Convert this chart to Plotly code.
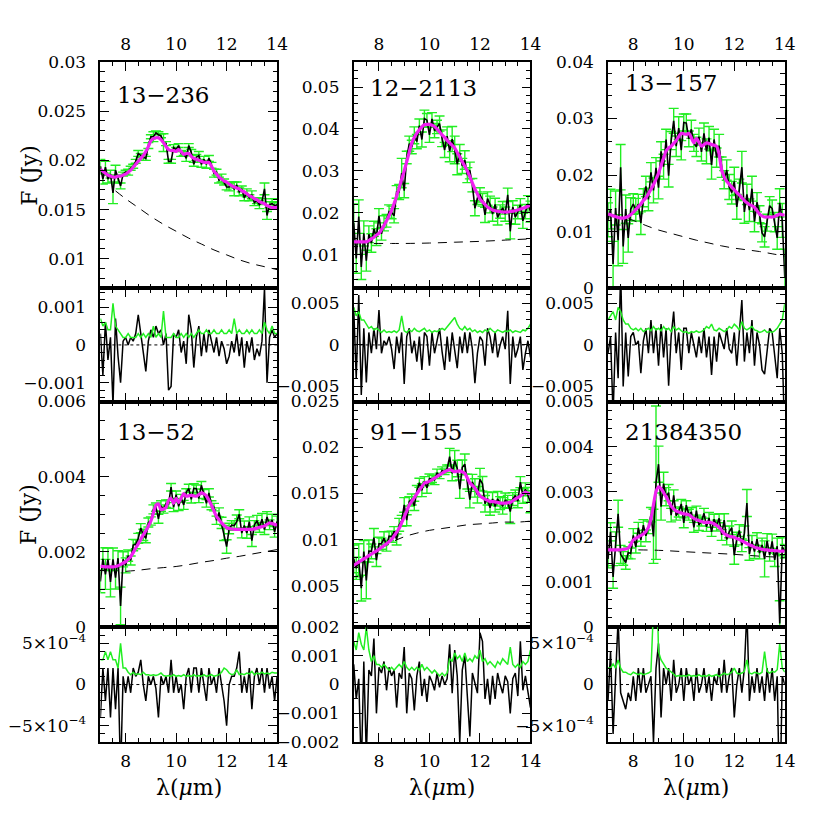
import numpy as np
import plotly.graph_objects as go

# ---------------- data ----------------
WAVE = [7.0, 7.1, 7.2, 7.3, 7.4, 7.5, 7.6, 7.7, 7.8, 7.9,
        8.0, 8.1, 8.2, 8.3, 8.4, 8.5, 8.6, 8.7, 8.8, 8.9,
        9.0, 9.1, 9.2, 9.3, 9.4, 9.5, 9.6, 9.7, 9.8, 9.9,
        10.0, 10.1, 10.2, 10.3, 10.4, 10.5, 10.6, 10.7, 10.8, 10.9,
        11.0, 11.1, 11.2, 11.3, 11.4, 11.5, 11.6, 11.7, 11.8, 11.9,
        12.0, 12.1, 12.2, 12.3, 12.4, 12.5, 12.6, 12.7, 12.8, 12.9,
        13.0, 13.1, 13.2, 13.3, 13.4, 13.5, 13.6, 13.7, 13.8, 13.9, 14.0]

NAMES = ["13\u2212236", "12\u22122113", "13\u2212157", "13\u221252", "91\u2212155", "21384350"]

# 13-236
MODEL_A = [0.0191, 0.0189, 0.0187, 0.0185, 0.0184, 0.0183, 0.0183, 0.0184, 0.0184, 0.0185,
           0.0186, 0.0188, 0.0190, 0.0193, 0.0196, 0.0199, 0.0202, 0.0205, 0.0209, 0.0214,
           0.0220, 0.0222, 0.0223, 0.0223, 0.0221, 0.0218, 0.0214, 0.0211, 0.0210, 0.0210,
           0.0209, 0.0211, 0.0209, 0.0206, 0.0207, 0.0207, 0.0204, 0.0202, 0.0201, 0.0200,
           0.0199, 0.0198, 0.0198, 0.0198, 0.0194, 0.0189, 0.0186, 0.0183, 0.0181, 0.0179,
           0.0178, 0.0176, 0.0174, 0.0173, 0.0172, 0.0171, 0.0169, 0.0168, 0.0166, 0.0164,
           0.0163, 0.0161, 0.0160, 0.0158, 0.0157, 0.0156, 0.0154, 0.0153, 0.0152, 0.0152, 0.0152]
RESID_A = [0.0003, -0.0008, 0.0006, -0.0004, 0.0002, -0.0016, 0.0007, -0.0003, -0.0010, 0.0001,
           0.0002, 0.0000, 0.0002, 0.0001, 0.0003, 0.0008, 0.0003, -0.0002, -0.0007, 0.0001,
           0.0004, 0.0002, 0.0005, 0.0003, 0.0004, 0.0000, 0.0003, -0.0012, -0.0011, 0.0003,
           0.0002, 0.0004, -0.0002, 0.0001, -0.0005, 0.0008, 0.0004, -0.0006, 0.0002, 0.0005,
           -0.0003, 0.0003, -0.0002, 0.0004, 0.0001, -0.0002, 0.0002, -0.0003, 0.0001, -0.0001,
           -0.0005, -0.0003, 0.0001, -0.0002, 0.0003, -0.0003, 0.0002, -0.0006, 0.0001, -0.0002,
           0.0002, -0.0004, -0.0001, -0.0003, 0.0001, 0.0015, -0.0010, 0.0002, 0.0004, 0.0002, 0.0003]
ERR_A = [0.0007, 0.0005, 0.0006, 0.0004, 0.0004, 0.0011, 0.0005, 0.0004, 0.0003, 0.0002,
         0.0002, 0.0003, 0.0002, 0.0002, 0.0002, 0.0003, 0.0002, 0.0003, 0.0002, 0.0003,
         0.0002, 0.0005, 0.0002, 0.0003, 0.0002, 0.0009, 0.0002, 0.0002, 0.0002, 0.0003,
         0.0002, 0.0002, 0.0003, 0.0002, 0.0003, 0.0002, 0.0003, 0.0002, 0.0003, 0.0004,
         0.0003, 0.0003, 0.0004, 0.0003, 0.0003, 0.0004, 0.0003, 0.0003, 0.0004, 0.0003,
         0.0003, 0.0004, 0.0003, 0.0007, 0.0003, 0.0004, 0.0003, 0.0003, 0.0004, 0.0003,
         0.0004, 0.0003, 0.0003, 0.0004, 0.0003, 0.0006, 0.0004, 0.0003, 0.0005, 0.0003, 0.0003]
CONT_X_A = [7.6, 8.0, 8.5, 9.0, 9.5, 10.0, 10.5, 11.0, 11.5, 12.0, 12.5, 13.0, 13.5, 14.0]
CONT_A = [0.0169, 0.0161, 0.0152, 0.0143, 0.0135, 0.0128, 0.0121, 0.0115, 0.0109, 0.0104,
          0.0099, 0.0095, 0.0092, 0.0089]

# 12-2113
MODEL_B = [0.0131, 0.0131, 0.0131, 0.0131, 0.0131, 0.0131, 0.0134, 0.0138, 0.0142, 0.0147,
           0.0151, 0.0160, 0.0170, 0.0181, 0.0193, 0.0206, 0.0222, 0.0240, 0.0260, 0.0280,
           0.0300, 0.0322, 0.0345, 0.0367, 0.0380, 0.0390, 0.0398, 0.0405, 0.0410, 0.0411,
           0.0411, 0.0409, 0.0406, 0.0400, 0.0393, 0.0386, 0.0380, 0.0373, 0.0367, 0.0361,
           0.0355, 0.0344, 0.0333, 0.0322, 0.0311, 0.0300, 0.0286, 0.0271, 0.0257, 0.0245,
           0.0233, 0.0226, 0.0220, 0.0214, 0.0210, 0.0207, 0.0205, 0.0204, 0.0203, 0.0202,
           0.0202, 0.0202, 0.0203, 0.0204, 0.0205, 0.0207, 0.0209, 0.0211, 0.0213, 0.0216, 0.0218]
RESID_B = [0.0045, -0.0040, 0.0060, -0.0060, 0.0020, -0.0045, 0.0015, -0.0010, 0.0020, -0.0005,
           0.0042, -0.0010, 0.0005, 0.0000, 0.0010, -0.0005, -0.0029, 0.0010, -0.0010, 0.0015,
           -0.0047, 0.0010, 0.0020, -0.0010, 0.0005, -0.0020, 0.0010, -0.0030, 0.0015, 0.0010,
           -0.0025, 0.0015, -0.0010, 0.0005, 0.0020, -0.0008, -0.0030, 0.0010, -0.0020, 0.0015,
           -0.0005, -0.0028, 0.0010, -0.0010, 0.0015, -0.0010, 0.0015, -0.0005, -0.0046, -0.0010,
           0.0010, 0.0005, -0.0025, 0.0020, 0.0010, -0.0010, 0.0015, -0.0015, 0.0000, 0.0010,
           -0.0005, 0.0041, -0.0047, 0.0010, -0.0015, -0.0005, 0.0010, -0.0030, -0.0010, 0.0005, -0.0015]
ERR_B = [0.0045, 0.0035, 0.0040, 0.0030, 0.0030, 0.0025, 0.0020, 0.0022, 0.0018, 0.0020,
         0.0017, 0.0015, 0.0018, 0.0015, 0.0016, 0.0015, 0.0017, 0.0015, 0.0018, 0.0035,
         0.0017, 0.0015, 0.0018, 0.0016, 0.0020, 0.0017, 0.0016, 0.0018, 0.0020, 0.0016,
         0.0018, 0.0015, 0.0017, 0.0016, 0.0018, 0.0020, 0.0018, 0.0022, 0.0025, 0.0030,
         0.0033, 0.0025, 0.0020, 0.0018, 0.0022, 0.0018, 0.0020, 0.0016, 0.0018, 0.0015,
         0.0017, 0.0015, 0.0018, 0.0016, 0.0020, 0.0017, 0.0015, 0.0018, 0.0016, 0.0015,
         0.0017, 0.0016, 0.0018, 0.0015, 0.0017, 0.0016, 0.0015, 0.0018, 0.0017, 0.0020, 0.0025]
CONT_X_B = [7.8, 8.5, 9.0, 10.0, 11.0, 12.0, 13.0, 14.0]
CONT_B = [0.0127, 0.0127, 0.0127, 0.0128, 0.0130, 0.0132, 0.0135, 0.0138]

# 13-157
MODEL_C = [0.0131, 0.0130, 0.0128, 0.0127, 0.0125, 0.0124, 0.0124, 0.0125, 0.0127, 0.0130,
           0.0134, 0.0139, 0.0144, 0.0149, 0.0155, 0.0160, 0.0167, 0.0175, 0.0183, 0.0193,
           0.0203, 0.0217, 0.0230, 0.0243, 0.0248, 0.0251, 0.0256, 0.0261, 0.0268, 0.0274,
           0.0273, 0.0272, 0.0274, 0.0266, 0.0257, 0.0265, 0.0258, 0.0251, 0.0254, 0.0257,
           0.0256, 0.0254, 0.0253, 0.0251, 0.0237, 0.0209, 0.0197, 0.0189, 0.0184, 0.0179,
           0.0174, 0.0169, 0.0165, 0.0160, 0.0155, 0.0151, 0.0148, 0.0146, 0.0143, 0.0137,
           0.0131, 0.0128, 0.0126, 0.0126, 0.0126, 0.0126, 0.0127, 0.0129, 0.0131, 0.0130, 0.0129]
RESID_C = [-0.0010, 0.0010, -0.0085, 0.0015, -0.0040, 0.0090, -0.0050, 0.0015, -0.0038, 0.0010,
           0.0015, 0.0000, 0.0005, -0.0034, 0.0005, 0.0020, -0.0010, 0.0030, -0.0010, 0.0020,
           -0.0025, 0.0025, -0.0015, 0.0020, -0.0049, 0.0010, 0.0040, -0.0010, 0.0015, -0.0030,
           0.0020, 0.0020, -0.0010, 0.0015, 0.0000, -0.0015, 0.0010, -0.0010, 0.0020, -0.0015,
           0.0010, -0.0036, 0.0010, -0.0020, 0.0015, 0.0005, -0.0005, 0.0020, -0.0005, -0.0010,
           0.0015, -0.0025, 0.0010, 0.0054, -0.0020, 0.0015, -0.0010, 0.0030, -0.0025, 0.0015,
           0.0000, -0.0030, -0.0035, -0.0010, 0.0020, 0.0015, -0.0010, -0.0040, 0.0020, -0.0010, -0.0110]
ERR_C = [0.0030, 0.0035, 0.0040, 0.0030, 0.0045, 0.0040, 0.0030, 0.0025, 0.0025, 0.0020,
         0.0018, 0.0020, 0.0017, 0.0020, 0.0016, 0.0018, 0.0020, 0.0017, 0.0022, 0.0018,
         0.0020, 0.0017, 0.0022, 0.0018, 0.0020, 0.0016, 0.0022, 0.0018, 0.0020, 0.0017,
         0.0015, 0.0016, 0.0014, 0.0016, 0.0015, 0.0017, 0.0015, 0.0016, 0.0018, 0.0022,
         0.0020, 0.0025, 0.0018, 0.0017, 0.0020, 0.0018, 0.0016, 0.0018, 0.0022, 0.0020,
         0.0025, 0.0022, 0.0018, 0.0028, 0.0020, 0.0018, 0.0020, 0.0022, 0.0018, 0.0017,
         0.0015, 0.0016, 0.0018, 0.0015, 0.0016, 0.0015, 0.0017, 0.0020, 0.0025, 0.0030, 0.0050]
CONT_X_C = [7.8, 8.0, 8.5, 9.0, 9.5, 10.0, 10.5, 11.0, 11.5, 12.0, 12.5, 13.0, 13.5, 14.0]
CONT_C = [0.0123, 0.0120, 0.0111, 0.0103, 0.0097, 0.0091, 0.0085, 0.0080, 0.0075, 0.0071,
          0.0068, 0.0065, 0.0061, 0.0057]

# 13-52
MODEL_D = [0.00161, 0.00161, 0.00160, 0.00160, 0.00160, 0.00160, 0.00161, 0.00163, 0.00166, 0.00170,
           0.00174, 0.00180, 0.00187, 0.00198, 0.00210, 0.00221, 0.00233, 0.00245, 0.00256, 0.00268,
           0.00282, 0.00303, 0.00324, 0.00328, 0.00312, 0.00314, 0.00318, 0.00337, 0.00342, 0.00329,
           0.00342, 0.00331, 0.00343, 0.00355, 0.00348, 0.00349, 0.00350, 0.00349, 0.00348, 0.00352,
           0.00357, 0.00354, 0.00349, 0.00337, 0.00324, 0.00309, 0.00294, 0.00285, 0.00277, 0.00270,
           0.00264, 0.00262, 0.00261, 0.00260, 0.00260, 0.00260, 0.00260, 0.00260, 0.00260, 0.00260,
           0.00260, 0.00261, 0.00263, 0.00265, 0.00267, 0.00269, 0.00273, 0.00277, 0.00275, 0.00273, 0.00271]
RESID_D = [-0.0004, 0.0002, -0.0002, 0.0002, -0.0004, 0.0002, -0.0003, 0.0002, -0.0011, 0.0001,
           -0.0001, 0.0001, -0.0001, 0.0002, 0.0001, 0.00015, 0.0003, 0.0000, -0.0002, 0.0001,
           0.0000, 0.0001, -0.00005, -0.0004, 0.0001, 0.0000, 0.0001, -0.0001, 0.0003, -0.0001,
           0.0001, -0.0001, 0.0000, -0.0003, 0.0001, 0.0002, -0.0001, 0.0002, 0.0002, -0.0001,
           0.0002, 0.0000, -0.0002, 0.0002, 0.0000, 0.0001, -0.0001, 0.0002, 0.0000, -0.0002,
           -0.0005, 0.0000, 0.0001, 0.0001, 0.0002, 0.0004, -0.0001, 0.0001, -0.0001, 0.0002,
           -0.0003, 0.0001, 0.0002, 0.0000, 0.0002, -0.0001, 0.0002, -0.00005, 0.0001, -0.0002, 0.0001]
ERR_D = [0.0003, 0.0003, 0.0004, 0.0003, 0.0004, 0.0003, 0.0003, 0.0002, 0.0005, 0.0002,
         0.0002, 0.00015, 0.00012, 0.00015, 0.00012, 0.00013, 0.00012, 0.00015, 0.00012, 0.00012,
         0.00011, 0.00012, 0.00011, 0.00012, 0.00014, 0.00011, 0.0001, 0.00011, 0.0001, 0.00012,
         0.0001, 0.00011, 0.0001, 0.00012, 0.0001, 0.00011, 0.0001, 0.00012, 0.0001, 0.00011,
         0.0001, 0.00012, 0.0001, 0.00011, 0.00012, 0.0001, 0.00011, 0.00012, 0.00015, 0.0002,
         0.00018, 0.00014, 0.00012, 0.00013, 0.00018, 0.00012, 0.00013, 0.00012, 0.00014, 0.00013,
         0.00016, 0.00012, 0.00014, 0.00013, 0.00015, 0.00013, 0.00014, 0.00013, 0.00015, 0.00014, 0.00014]
CONT_X_D = [8.0, 8.5, 9.0, 9.5, 10.0, 10.5, 11.0, 11.5, 12.0, 12.5, 13.0, 13.5, 14.0]
CONT_D = [0.00148, 0.00151, 0.00155, 0.00158, 0.00161, 0.00166, 0.00172, 0.00177, 0.00183,
          0.00188, 0.00194, 0.00200, 0.00206]

# 91-155
MODEL_E = [0.00720, 0.00737, 0.00755, 0.00772, 0.00790, 0.00807, 0.00825, 0.00842, 0.00860, 0.00877,
           0.00895, 0.00915, 0.00935, 0.00954, 0.00977, 0.01000, 0.01040, 0.01080, 0.01120, 0.01183,
           0.01246, 0.01310, 0.01375, 0.01415, 0.01456, 0.01497, 0.01537, 0.01576, 0.01614, 0.01623,
           0.01632, 0.01650, 0.01667, 0.01685, 0.01702, 0.01720, 0.01737, 0.01750, 0.01761, 0.01749,
           0.01737, 0.01742, 0.01747, 0.01735, 0.01719, 0.01670, 0.01614, 0.01588, 0.01561, 0.01517,
           0.01474, 0.01456, 0.01439, 0.01426, 0.01414, 0.01412, 0.01410, 0.01403, 0.01396, 0.01396,
           0.01396, 0.01400, 0.01404, 0.01420, 0.01439, 0.01456, 0.01474, 0.01495, 0.01516, 0.01505, 0.01491]
RESID_E = [0.0007, -0.0005, 0.0002, -0.0030, 0.0008, -0.0025, 0.0005, 0.0003, 0.0016, -0.0010,
           0.0006, 0.0004, 0.0008, -0.0002, 0.0006, 0.0003, 0.0005, -0.0008, 0.0004, 0.0002,
           0.0013, -0.0010, 0.0004, 0.0002, -0.0009, 0.0003, 0.0008, -0.0004, 0.0002, -0.0006,
           0.0003, 0.0001, -0.0002, 0.0004, -0.0001, 0.0003, 0.0000, 0.0002, 0.0014, -0.0003,
           0.0012, 0.0003, -0.0020, 0.0005, 0.0010, -0.0004, -0.0018, 0.0004, 0.0000, -0.0003,
           0.0018, 0.0015, -0.0005, 0.0002, -0.0007, 0.0003, -0.0005, 0.0004, 0.0000, -0.0003,
           0.0003, 0.0001, -0.0010, 0.0002, 0.0004, -0.0004, 0.0015, -0.0002, 0.0003, -0.0002, -0.0008]
ERR_E = [0.0015, 0.0012, 0.0018, 0.0014, 0.0012, 0.0020, 0.0012, 0.0008, 0.0010, 0.0007,
         0.0007, 0.0006, 0.0007, 0.0006, 0.0005, 0.0006, 0.0005, 0.0006, 0.0007, 0.0006,
         0.0008, 0.0006, 0.0005, 0.0006, 0.0005, 0.0006, 0.0005, 0.0007, 0.0005, 0.0006,
         0.0005, 0.0004, 0.0005, 0.0004, 0.0003, 0.0004, 0.0003, 0.0004, 0.0009, 0.0008,
         0.0011, 0.0009, 0.0010, 0.0008, 0.0011, 0.0008, 0.0009, 0.0008, 0.0010, 0.0009,
         0.0012, 0.0008, 0.0009, 0.0007, 0.0008, 0.0007, 0.0006, 0.0008, 0.0007, 0.0009,
         0.0008, 0.0007, 0.0013, 0.0007, 0.0006, 0.0007, 0.0006, 0.0008, 0.0007, 0.0008, 0.0012]
CONT_X_E = [7.0, 7.5, 8.0, 8.5, 9.0, 9.5, 10.0, 10.5, 11.0, 11.5, 12.0, 12.5, 13.0, 13.5, 14.0]
CONT_E = [0.0072, 0.0080, 0.0089, 0.0097, 0.0103, 0.0107, 0.0110, 0.0112, 0.0114, 0.0116,
          0.0117, 0.0118, 0.0119, 0.0119, 0.0120]

# 21384350
MODEL_F = [0.00171, 0.00171, 0.00171, 0.00171, 0.00171, 0.00171, 0.00172, 0.00173, 0.00175, 0.00183,
           0.00193, 0.00197, 0.00200, 0.00203, 0.00206, 0.00212, 0.00221, 0.00239, 0.00271, 0.00300,
           0.00311, 0.00307, 0.00298, 0.00289, 0.00278, 0.00268, 0.00262, 0.00257, 0.00255, 0.00253,
           0.00251, 0.00250, 0.00249, 0.00245, 0.00241, 0.00238, 0.00236, 0.00234, 0.00232, 0.00232,
           0.00232, 0.00231, 0.00229, 0.00225, 0.00221, 0.00214, 0.00207, 0.00204, 0.00201, 0.00200,
           0.00199, 0.00196, 0.00194, 0.00191, 0.00188, 0.00185, 0.00182, 0.00180, 0.00177, 0.00175,
           0.00174, 0.00172, 0.00171, 0.00171, 0.00170, 0.00170, 0.00169, 0.00169, 0.00168, 0.00168, 0.00168]
RESID_F = [-0.0002, 0.0004, -0.0006, 0.0002, 0.0008, -0.0001, -0.0002, -0.0003, -0.0001, -0.0002,
           0.0001, -0.0002, 0.0002, -0.0001, 0.0002, -0.0001, 0.0000, 0.0001, -0.0007, 0.0002,
           0.0005, -0.0004, 0.0002, 0.0000, 0.0002, -0.0002, 0.0003, -0.0001, 0.0000, 0.0002,
           -0.0002, 0.0002, 0.0000, 0.0001, -0.0002, 0.0002, -0.0001, 0.0000, 0.0002, -0.0001,
           0.0001, -0.0002, 0.0001, 0.0000, 0.0002, -0.0001, 0.0003, -0.0001, 0.0001, 0.0002,
           -0.0004, 0.0000, 0.0002, -0.0001, 0.0002, 0.0009, -0.0002, 0.0001, -0.0001, 0.0002,
           -0.0001, 0.0001, -0.0002, 0.0002, -0.0001, 0.0002, -0.0002, 0.0001, -0.0016, 0.0001, 0.0000]
ERR_F = [0.0002, 0.0002, 0.00025, 0.0002, 0.0003, 0.0002, 0.00015, 0.00015, 0.00013, 0.00012,
         0.00015, 0.00013, 0.00012, 0.00014, 0.00012, 0.00013, 0.00014, 0.00016, 0.0006, 0.0017,
         0.0004, 0.0003, 0.00025, 0.0002, 0.00018, 0.00015, 0.00012, 0.0001, 0.00011, 0.0001,
         0.00011, 0.0001, 0.00012, 0.0001, 0.00011, 0.0001, 0.00012, 0.0001, 0.00011, 0.0001,
         0.00012, 0.0001, 0.00011, 0.00012, 0.0001, 0.00012, 0.00014, 0.00012, 0.00013, 0.00015,
         0.0002, 0.00014, 0.00013, 0.00014, 0.00016, 0.0003, 0.00014, 0.00013, 0.00015, 0.00014,
         0.00013, 0.00015, 0.0004, 0.00016, 0.00014, 0.00016, 0.00015, 0.00018, 0.0005, 0.0002, 0.00015]
CONT_X_F = [8.2, 9.0, 10.0, 11.0, 12.0, 13.0, 14.0]
CONT_F = [0.00171, 0.00170, 0.00167, 0.00164, 0.00161, 0.00157, 0.00154]

# axis ranges and tick labels
FLUX_RANGE = [[0.007, 0.03], [0.002, 0.056], [0.0, 0.04],
              [0.0, 0.006], [0.0005, 0.025], [0.0, 0.005]]
RES_RANGE = [[-0.0015, 0.0015], [-0.0068, 0.0068], [-0.0068, 0.0068],
             [-0.0007, 0.0007], [-0.002, 0.002], [-0.0007, 0.0007]]
FLUX_TICKS = [[0.01, 0.015, 0.02, 0.025, 0.03], [0.01, 0.02, 0.03, 0.04, 0.05],
              [0.0, 0.01, 0.02, 0.03, 0.04], [0.0, 0.002, 0.004, 0.006],
              [0.005, 0.01, 0.015, 0.02, 0.025], [0.0, 0.001, 0.002, 0.003, 0.004, 0.005]]
FLUX_LABELS = [["0.01", "0.015", "0.02", "0.025", "0.03"], ["0.01", "0.02", "0.03", "0.04", "0.05"],
               ["0", "0.01", "0.02", "0.03", "0.04"], ["0", "0.002", "0.004", "0.006"],
               ["0.005", "0.01", "0.015", "0.02", "0.025"], ["0", "0.001", "0.002", "0.003", "0.004", "0.005"]]
FLUX_MINOR = [0.001, 0.002, 0.002, 0.0005, 0.001, 0.0002]
RES_TICKS = [[-0.001, 0.0, 0.001], [-0.005, 0.0, 0.005], [-0.005, 0.0, 0.005],
             [-0.0005, 0.0, 0.0005], [-0.002, -0.001, 0.0, 0.001, 0.002], [-0.0005, 0.0, 0.0005]]
RES_LABELS = [["\u22120.001", "0", "0.001"], ["\u22120.005", "0", "0.005"], ["\u22120.005", "0", "0.005"],
              ["\u22125\u00d710<sup>\u22124</sup>", "0", "5\u00d710<sup>\u22124</sup>"],
              ["\u22120.002", "\u22120.001", "0", "0.001", "0.002"],
              ["\u22125\u00d710<sup>\u22124</sup>", "0", "5\u00d710<sup>\u22124</sup>"]]
RES_MINOR = [0.0002, 0.001, 0.001, 0.0001, 0.0005, 0.0001]
X_TICKS = [8, 10, 12, 14]

MODELS = [MODEL_A, MODEL_B, MODEL_C, MODEL_D, MODEL_E, MODEL_F]
RESIDS = [RESID_A, RESID_B, RESID_C, RESID_D, RESID_E, RESID_F]
ERRS = [ERR_A, ERR_B, ERR_C, ERR_D, ERR_E, ERR_F]
CONT_XS = [CONT_X_A, CONT_X_B, CONT_X_C, CONT_X_D, CONT_X_E, CONT_X_F]
CONTS = [CONT_A, CONT_B, CONT_C, CONT_D, CONT_E, CONT_F]

# ---------------- layout geometry (pixels) ----------------
W = H = 830
COLS = [(90, 270), (348, 528), (607, 787)]
ROWS = [(45, 277), (277, 393), (393, 624), (624, 742)]
LABEL_Y = [79, 72, 67, 424, 424, 424]
FONT = "DejaVu Serif"
GREEN = "#22ee22"
MAGENTA = "#f020f0"


def xd(a, b):
    return [a / W, b / W]


def yd(top, bot):
    return [1 - bot / H, 1 - top / H]


fig = go.Figure()
layout = dict(width=W, height=H, margin=dict(l=0, r=0, t=0, b=0),
              paper_bgcolor="white", plot_bgcolor="white", showlegend=False,
              font=dict(family=FONT, size=17, color="black"))
shapes = []
annotations = []

ax = 0
for k in range(6):
    col = k % 3
    blk = k // 3  # 0 -> top block, 1 -> bottom block
    x = np.array(WAVE)
    model = np.array(MODELS[k])
    resid = np.array(RESIDS[k])
    err = np.array(ERRS[k])
    flux = model + resid

    for part in range(2):  # 0 flux, 1 residual
        ax += 1
        row = blk * 2 + part
        xa = "x" if ax == 1 else f"x{ax}"
        ya = "y" if ax == 1 else f"y{ax}"
        xkey = "xaxis" if ax == 1 else f"xaxis{ax}"
        ykey = "yaxis" if ax == 1 else f"yaxis{ax}"
        show_x = row in (0, 3)
        layout[xkey] = dict(
            domain=xd(*COLS[col]), anchor=ya, range=[7, 14],
            tickmode="array", tickvals=X_TICKS, ticktext=[str(t) for t in X_TICKS],
            ticks="inside", ticklen=9, tickwidth=1.3, tickcolor="black",
            minor=dict(ticks="inside", tick0=7, dtick=0.5, ticklen=4.5, tickwidth=1.1, tickcolor="black"),
            showline=True, linewidth=1.6, linecolor="black", mirror="allticks",
            showgrid=False, zeroline=False, showticklabels=show_x,
            side="top" if row == 0 else "bottom", ticklabelstandoff=3,
            tickfont=dict(family=FONT, size=17, color="black"))
        if part == 0:
            rng, tv, tt, mn = FLUX_RANGE[k], FLUX_TICKS[k], FLUX_LABELS[k], FLUX_MINOR[k]
        else:
            rng, tv, tt, mn = RES_RANGE[k], RES_TICKS[k], RES_LABELS[k], RES_MINOR[k]
        layout[ykey] = dict(
            domain=yd(*ROWS[row]), anchor=xa, range=rng,
            tickmode="array", tickvals=tv, ticktext=tt,
            ticks="inside", ticklen=9, tickwidth=1.3, tickcolor="black",
            minor=dict(ticks="inside", tick0=0, dtick=mn, ticklen=4.5, tickwidth=1.1, tickcolor="black"),
            showline=True, linewidth=1.6, linecolor="black", mirror="allticks",
            showgrid=False, zeroline=False, ticklabelstandoff=9,
            tickfont=dict(family=FONT, size=17, color="black"))

        if part == 0:
            fig.add_trace(go.Scatter(
                x=x, y=flux, mode="markers", xaxis=xa, yaxis=ya,
                marker=dict(size=1, color="rgba(0,0,0,0)"),
                error_y=dict(type="data", array=err, color=GREEN, thickness=1.4, width=5),
                hoverinfo="skip"))
            fig.add_trace(go.Scatter(
                x=x, y=flux, mode="lines", xaxis=xa, yaxis=ya,
                line=dict(color="black", width=1.6)))
            fig.add_trace(go.Scatter(
                x=CONT_XS[k], y=CONTS[k], mode="lines", xaxis=xa, yaxis=ya,
                line=dict(color="black", width=1, dash="9px,7px", shape="spline")))
            fig.add_trace(go.Scatter(
                x=x, y=model, mode="lines", xaxis=xa, yaxis=ya,
                line=dict(color=MAGENTA, width=3.2, shape="spline", smoothing=0.6)))
            annotations.append(dict(
                text=NAMES[k], xref="paper", yref="paper",
                x=(COLS[col][0] + 15) / W, y=1 - LABEL_Y[k] / H,
                xanchor="left", yanchor="middle", showarrow=False,
                font=dict(family=FONT, size=23, color="black")))
        else:
            shapes.append(dict(type="line", xref=f"{xa} domain", yref=ya,
                               x0=0, x1=1, y0=0, y1=0,
                               line=dict(color="black", width=1, dash="dot")))
            fig.add_trace(go.Scatter(
                x=x, y=resid, mode="lines", xaxis=xa, yaxis=ya,
                line=dict(color="black", width=1.5)))
            fig.add_trace(go.Scatter(
                x=x, y=err, mode="lines", xaxis=xa, yaxis=ya,
                line=dict(color=GREEN, width=1.5)))

# axis titles
for top, bot in (ROWS[0], ROWS[2]):
    annotations.append(dict(text="F (Jy)", xref="paper", yref="paper",
                            x=17 / W, y=1 - ((top + bot) / 2) / H, textangle=-90,
                            xanchor="center", yanchor="middle", showarrow=False,
                            font=dict(family=FONT, size=22, color="black")))
for a, b in COLS:
    annotations.append(dict(text="\u03bb(<i>\u03bc</i>m)", xref="paper", yref="paper",
                            x=((a + b) / 2) / W, y=1 - 788 / H,
                            xanchor="center", yanchor="middle", showarrow=False,
                            font=dict(family=FONT, size=22, color="black")))

layout["shapes"] = shapes
layout["annotations"] = annotations
fig.update_layout(**layout)
fig.write_html("out.html")
